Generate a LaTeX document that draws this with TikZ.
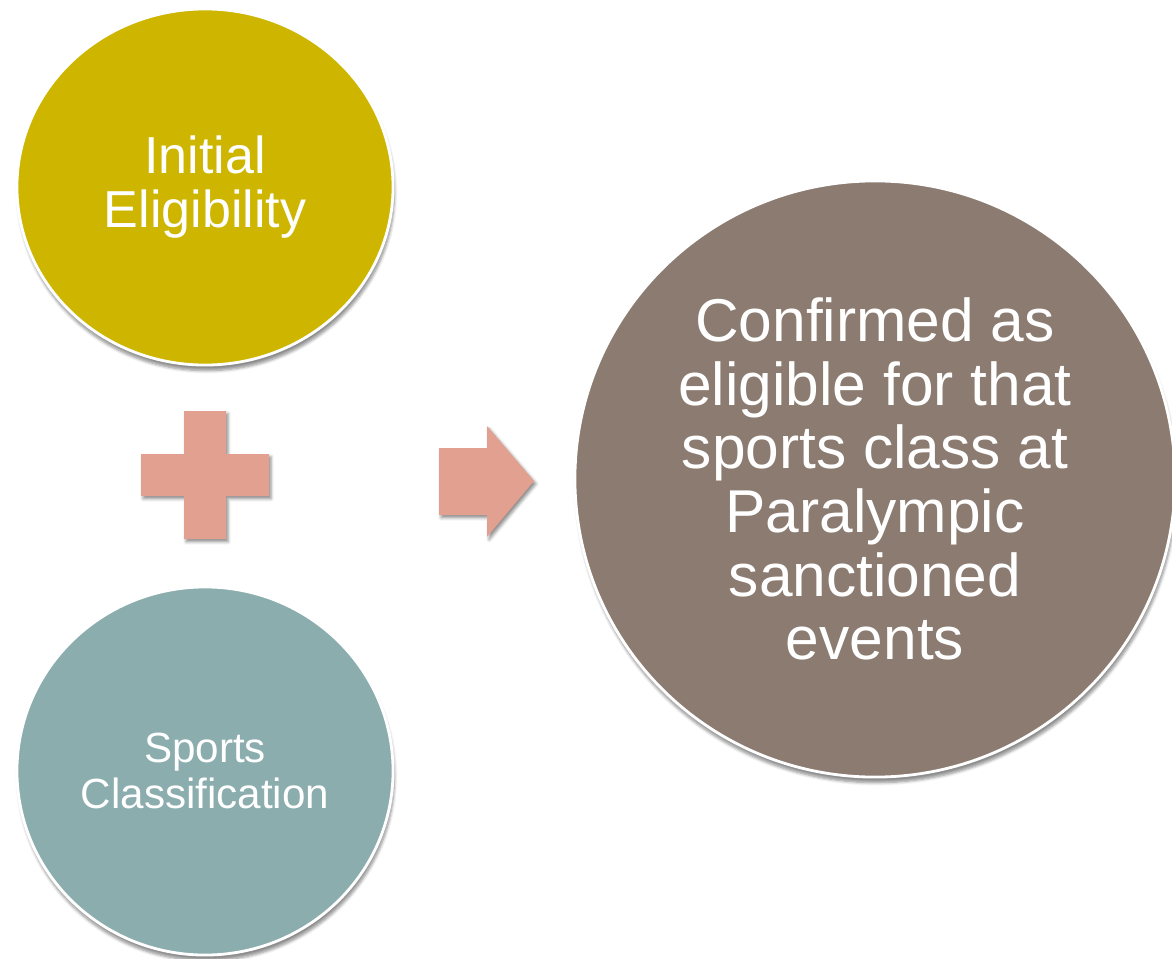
\documentclass[tikz,border=0pt]{standalone}
\usepackage{fontspec}
\setmainfont{Liberation Sans}
\usetikzlibrary{shapes.geometric,shadows,shadows.blur}

\definecolor{eligyellow}{HTML}{CDB500}
\definecolor{classteal}{HTML}{8BADAE}
\definecolor{confbrown}{HTML}{8B7B70}
\definecolor{signpink}{HTML}{E2A190}

\tikzset{
  stage/.style={ellipse,draw=white,line width=2pt,inner sep=0pt,text=white,align=center,
    blur shadow={shadow xshift=1pt,shadow yshift=-4pt,shadow blur steps=6,shadow opacity=45}},
  sign/.style={fill=signpink,
    blur shadow={shadow xshift=1.5pt,shadow yshift=-2pt,shadow blur steps=4,shadow opacity=45}}
}

\begin{document}
\begin{tikzpicture}[x=0.025cm,y=-0.025cm]
\useasboundingbox (0,0) rectangle (1172,959);

\node[stage,fill=eligyellow,minimum width=9.4cm,minimum height=8.9cm,
      font=\fontsize{37pt}{38pt}\selectfont] (elig) at (205,187) {Initial\\Eligibility};
\node[stage,fill=classteal,minimum width=9.4cm,minimum height=9.2cm,
      font=\fontsize{30pt}{32.7pt}\selectfont] (class) at (205,771) {Sports\\Classification};
\node[stage,fill=confbrown,minimum width=15cm,minimum height=14.9cm,
      font=\fontsize{43pt}{45.3pt}\selectfont] (conf) at (875,479)
      {Confirmed as\\eligible for that\\sports class at\\Paralympic\\sanctioned\\events};

% plus sign
\fill[sign] (184,411) -- (226,411) -- (226,454) -- (269,454) -- (269,496) -- (226,496)
  -- (226,539) -- (184,539) -- (184,496) -- (141,496) -- (141,454) -- (184,454) -- cycle;
% arrow
\fill[sign] (439,448) -- (487,448) -- (487,426) -- (534,481) -- (487,537) -- (487,515)
  -- (439,515) -- cycle;

\end{tikzpicture}
\end{document}
